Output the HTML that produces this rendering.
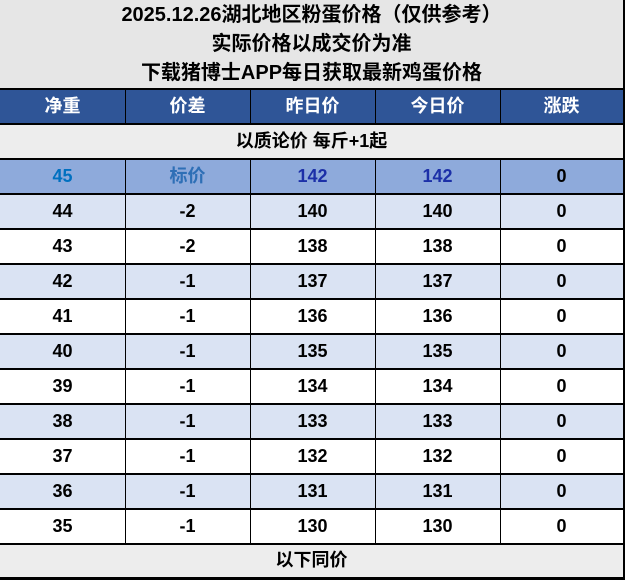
<!DOCTYPE html>
<html><head><meta charset="utf-8"><style>
*{margin:0;padding:0;box-sizing:border-box}
html,body{width:626px;height:580px;overflow:hidden;background:#fff}
body{position:relative;font-family:"Liberation Sans","Noto Sans CJK SC",sans-serif;font-weight:bold}
.a{position:absolute}
.t{position:absolute;left:0;width:623px;text-align:center;font-size:20px;color:#000;line-height:29px}
.row{position:absolute;left:0;width:623px;height:35px}
.c{position:absolute;top:0;height:35px;line-height:35px;text-align:center;font-size:18px;color:#000}
.c1{left:0;width:125px}.c2{left:125px;width:125px}.c3{left:250px;width:125px}.c4{left:375px;width:125px}.c5{left:500px;width:123px}
.h{position:absolute;left:0;width:623px;height:2px;background:#000}
.v{position:absolute;width:1px;background:#000}
</style></head><body>
<div class="a" style="left:0;top:0;width:626px;height:89px;background:#e6e6e6"></div>
<div class="t" style="top:1px">2025.12.26湖北地区粉蛋价格（仅供参考）</div>
<div class="t" style="top:30px">实际价格以成交价为准</div>
<div class="t" style="top:59px">下载猪博士APP每日获取最新鸡蛋价格</div>

<div class="row" style="top:89px;background:#2f5597">
<div class="c c1" style="color:#fff">净重</div><div class="c c2" style="color:#fff">价差</div><div class="c c3" style="color:#fff">昨日价</div><div class="c c4" style="color:#fff">今日价</div><div class="c c5" style="color:#fff">涨跌</div>
</div>
<div class="row" style="top:124px;background:#ededed">
<div class="c" style="left:0;width:623px">以质论价 每斤+1起</div>
</div>
<div class="row" style="top:159px;background:#8eaadb">
<div class="c c1" style="color:#0070c0">45</div><div class="c c2" style="color:#2e6fb6">标价</div><div class="c c3" style="color:#1c30a8">142</div><div class="c c4" style="color:#1c30a8">142</div><div class="c c5">0</div>
</div>
<div class="row" style="top:194px;background:#dae3f3"><div class="c c1">44</div><div class="c c2">-2</div><div class="c c3">140</div><div class="c c4">140</div><div class="c c5">0</div></div>
<div class="row" style="top:229px;background:#fff"><div class="c c1">43</div><div class="c c2">-2</div><div class="c c3">138</div><div class="c c4">138</div><div class="c c5">0</div></div>
<div class="row" style="top:264px;background:#dae3f3"><div class="c c1">42</div><div class="c c2">-1</div><div class="c c3">137</div><div class="c c4">137</div><div class="c c5">0</div></div>
<div class="row" style="top:299px;background:#fff"><div class="c c1">41</div><div class="c c2">-1</div><div class="c c3">136</div><div class="c c4">136</div><div class="c c5">0</div></div>
<div class="row" style="top:334px;background:#dae3f3"><div class="c c1">40</div><div class="c c2">-1</div><div class="c c3">135</div><div class="c c4">135</div><div class="c c5">0</div></div>
<div class="row" style="top:369px;background:#fff"><div class="c c1">39</div><div class="c c2">-1</div><div class="c c3">134</div><div class="c c4">134</div><div class="c c5">0</div></div>
<div class="row" style="top:404px;background:#dae3f3"><div class="c c1">38</div><div class="c c2">-1</div><div class="c c3">133</div><div class="c c4">133</div><div class="c c5">0</div></div>
<div class="row" style="top:439px;background:#fff"><div class="c c1">37</div><div class="c c2">-1</div><div class="c c3">132</div><div class="c c4">132</div><div class="c c5">0</div></div>
<div class="row" style="top:474px;background:#dae3f3"><div class="c c1">36</div><div class="c c2">-1</div><div class="c c3">131</div><div class="c c4">131</div><div class="c c5">0</div></div>
<div class="row" style="top:509px;background:#fff"><div class="c c1">35</div><div class="c c2">-1</div><div class="c c3">130</div><div class="c c4">130</div><div class="c c5">0</div></div>
<div class="row" style="top:544px;height:33px;background:#ededed">
<div class="c" style="left:0;width:623px;height:33px;line-height:33px">以下同价</div>
</div>

<!-- horizontal lines -->
<div class="h" style="top:88px"></div>
<div class="h" style="top:123px"></div>
<div class="h" style="top:158px"></div>
<div class="h" style="top:193px"></div>
<div class="h" style="top:228px"></div>
<div class="h" style="top:263px"></div>
<div class="h" style="top:298px"></div>
<div class="h" style="top:333px"></div>
<div class="h" style="top:368px"></div>
<div class="h" style="top:403px"></div>
<div class="h" style="top:438px"></div>
<div class="h" style="top:473px"></div>
<div class="h" style="top:508px"></div>
<div class="h" style="top:543px"></div>
<div class="a" style="left:0;top:577px;width:626px;height:3px;background:#000"></div>

<!-- vertical lines -->
<div class="v" style="left:125px;top:89px;height:35px"></div>
<div class="v" style="left:250px;top:89px;height:35px"></div>
<div class="v" style="left:375px;top:89px;height:35px"></div>
<div class="v" style="left:500px;top:89px;height:35px"></div>
<div class="v" style="left:125px;top:159px;height:385px"></div>
<div class="v" style="left:250px;top:159px;height:385px"></div>
<div class="v" style="left:375px;top:159px;height:385px"></div>
<div class="v" style="left:500px;top:159px;height:385px"></div>
<div class="a" style="left:623px;top:0;width:2px;height:580px;background:#000"></div>
<div class="a" style="left:625px;top:0;width:1px;height:580px;background:#fff"></div>
</body></html>
